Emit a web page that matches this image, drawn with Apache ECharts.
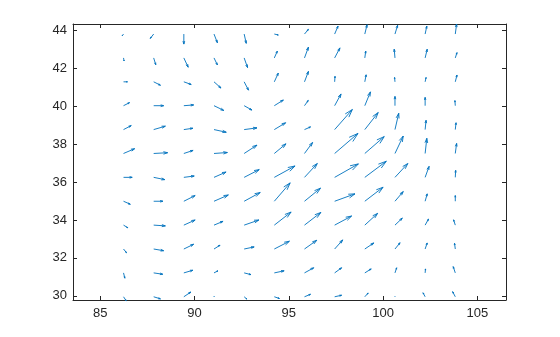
<!DOCTYPE html>
<html>
<head>
<meta charset="utf-8">
<script src="https://cdn.jsdelivr.net/npm/echarts@6/dist/echarts.min.js"></script>
<style>html,body{margin:0;padding:0;background:#fff}#c{width:560px;height:337px}</style>
</head>
<body>
<div id="c"></div>
<script>
// grid x positions (columns) and y positions (rows, bottom to top)
var xs = [86.23, 87.83, 89.43, 91.03, 92.63, 94.23, 95.83, 97.43, 99.03, 100.63, 102.23, 103.83];
var ys = [29.95, 31.21, 32.47, 33.73, 34.99, 36.25, 37.51, 38.77, 40.03, 41.29, 42.55, 43.81];
// displayed vector components (data units), one array per row, bottom row first
var U = [
  [0.14, 0.36, 0.37, 0.02, 0.14, 0.27, 0.32, 0.37, 0.18, 0.00, -0.11, -0.14],
  [0.07, 0.48, 0.48, 0.21, 0.36, 0.52, 0.49, 0.37, 0.34, 0.09, 0.02, -0.11],
  [0.16, 0.53, 0.52, 0.32, 0.53, 0.80, 0.65, 0.43, 0.48, 0.27, 0.11, -0.04],
  [0.23, 0.62, 0.60, 0.48, 0.78, 0.89, 0.87, 0.90, 0.68, 0.39, 0.18, -0.09],
  [0.36, 0.49, 0.60, 0.76, 0.85, 0.84, 0.85, 1.08, 0.97, 0.44, 0.11, 0.00],
  [0.46, 0.59, 0.55, 0.64, 0.80, 1.10, 0.68, 1.26, 1.14, 0.68, 0.21, 0.02],
  [0.59, 0.74, 0.49, 0.71, 0.68, 0.62, 0.43, 1.24, 1.03, 0.44, 0.09, 0.07],
  [0.41, 0.62, 0.48, 0.65, 0.68, 0.60, 0.32, 0.94, 0.71, 0.20, 0.05, 0.04],
  [0.32, 0.53, 0.52, 0.52, 0.41, 0.48, 0.20, 0.34, 0.30, 0.00, 0.00, -0.02],
  [0.21, 0.36, 0.39, 0.37, 0.23, 0.21, 0.21, 0.02, 0.07, -0.02, 0.05, 0.09],
  [0.03, 0.11, 0.23, 0.18, 0.18, 0.16, 0.21, 0.28, 0.05, -0.04, 0.11, 0.09],
  [-0.07, -0.18, 0.00, 0.18, 0.11, 0.21, 0.21, 0.18, 0.12, 0.14, 0.09, 0.07]
];
var V = [
  [-0.21, -0.11, 0.25, 0.04, -0.12, -0.09, 0.13, 0.08, 0.20, 0.03, 0.21, 0.27],
  [-0.28, -0.07, 0.14, 0.11, -0.09, 0.11, 0.27, 0.27, 0.21, 0.27, 0.21, 0.33],
  [-0.20, -0.09, 0.25, 0.20, 0.11, 0.41, 0.46, 0.48, 0.32, 0.33, 0.32, 0.30],
  [-0.14, -0.04, 0.27, 0.20, 0.27, 0.69, 0.67, 0.48, 0.62, 0.37, 0.32, 0.28],
  [-0.16, 0.00, 0.30, 0.33, 0.46, 0.97, 0.69, 0.39, 0.74, 0.51, 0.39, 0.30],
  [0.00, -0.12, 0.07, 0.28, 0.41, 0.60, 0.73, 0.71, 0.85, 0.73, 0.58, 0.37],
  [0.25, 0.04, 0.16, 0.05, 0.44, 0.51, 0.58, 1.06, 0.89, 0.92, 0.80, 0.53],
  [0.21, 0.18, 0.07, -0.14, 0.09, 0.36, 0.14, 1.06, 0.90, 0.86, 0.49, 0.36],
  [0.16, 0.00, 0.04, -0.25, -0.23, 0.30, 0.28, 0.62, 0.73, 0.49, 0.44, 0.27],
  [0.00, -0.18, -0.14, -0.33, -0.44, 0.46, 0.55, 0.29, 0.37, 0.23, 0.23, 0.36],
  [-0.16, -0.36, -0.49, -0.37, -0.51, 0.36, 0.57, 0.53, 0.36, 0.46, 0.46, 0.28],
  [-0.09, -0.23, -0.53, -0.46, -0.49, -0.05, 0.25, 0.42, 0.49, 0.46, 0.42, 0.53]
];
var xTicks = [85, 90, 95, 100, 105];
var yTicks = [30, 32, 34, 36, 38, 40, 42, 44];

var data = [];
for (var r = 0; r < ys.length; r++) {
  for (var c = 0; c < xs.length; c++) {
    data.push([xs[c], ys[r], U[r][c], V[r][c]]);
  }
}

var axisCol = '#262626';
var XMIN = 83.55, XMAX = 106.52, YMIN = 29.78, YMAX = 44.34;

function xAx(pos, showLabel) {
  return {
    type: 'value', position: pos, min: XMIN, max: XMAX,
    splitLine: {show: false},
    axisLine: {show: true, onZero: false, lineStyle: {color: axisCol, width: 1}},
    axisTick: {show: true, inside: true, length: 4, customValues: xTicks, lineStyle: {color: axisCol}},
    axisLabel: {show: showLabel, customValues: xTicks, color: axisCol, fontSize: 13, fontFamily: 'Liberation Sans, Arial, sans-serif', margin: 7}
  };
}
function yAx(pos, showLabel) {
  return {
    type: 'value', position: pos, min: YMIN, max: YMAX,
    splitLine: {show: false},
    axisLine: {show: true, onZero: false, lineStyle: {color: axisCol, width: 1}},
    axisTick: {show: true, inside: true, length: 4, customValues: yTicks, lineStyle: {color: axisCol}},
    axisLabel: {show: showLabel, customValues: yTicks, color: axisCol, fontSize: 13, fontFamily: 'Liberation Sans, Arial, sans-serif', margin: 6}
  };
}

var chart = echarts.init(document.getElementById('c'), null, {renderer: 'canvas'});
chart.setOption({
  animation: false,
  backgroundColor: '#ffffff',
  grid: {left: 73, right: 54, top: 24, bottom: 37, containLabel: false},
  xAxis: [xAx('bottom', true), xAx('top', false)],
  yAxis: [yAx('left', true), yAx('right', false)],
  series: [{
    type: 'custom',
    xAxisIndex: 0, yAxisIndex: 0,
    clip: false,
    data: data,
    renderItem: function (params, api) {
      var x = api.value(0), y = api.value(1), u = api.value(2), v = api.value(3);
      var p0 = api.coord([x, y]);
      var p1 = api.coord([x + u, y + v]);
      var du = p1[0] - p0[0], dv = p1[1] - p0[1];
      var a = 0.3, b = 0.3;
      var h1 = [p1[0] - a * (du + b * dv), p1[1] - a * (dv - b * du)];
      var h2 = [p1[0] - a * (du - b * dv), p1[1] - a * (dv + b * du)];
      var st = {stroke: '#0072BD', lineWidth: 0.9, fill: null};
      return {
        type: 'group',
        children: [
          {type: 'polyline', shape: {points: [p0, p1]}, style: st},
          {type: 'polyline', shape: {points: [h1, p1, h2]}, style: st}
        ]
      };
    }
  }]
});
</script>
</body>
</html>
